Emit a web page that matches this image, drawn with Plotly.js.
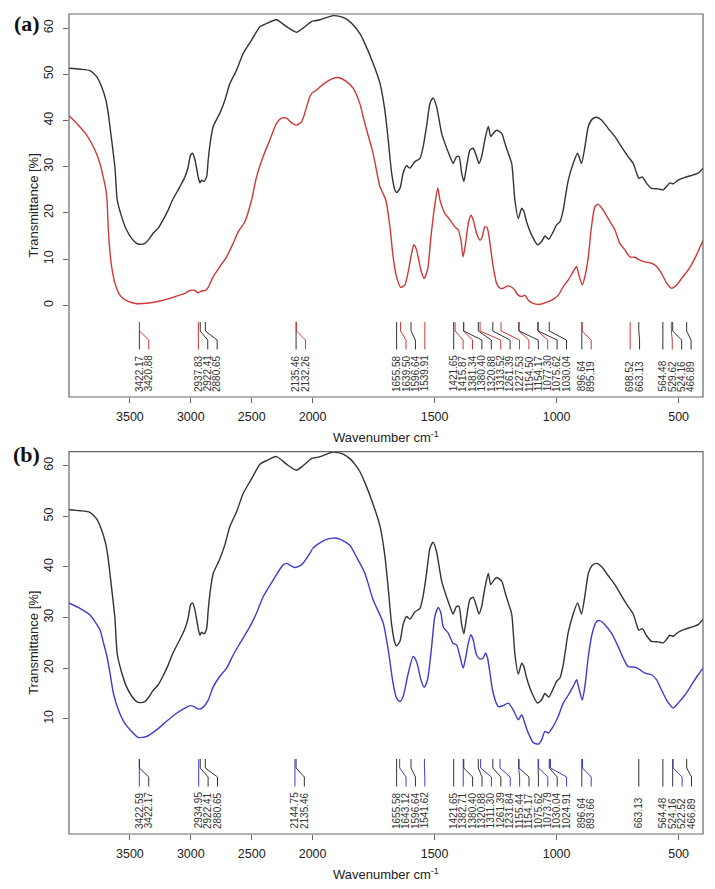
<!DOCTYPE html>
<html><head><meta charset="utf-8">
<script src="https://cdn.plot.ly/plotly-3.0.1.min.js"></script>
<style>body{margin:0;background:#fff}#chart{width:715px;height:889px}</style>
</head><body><div id="chart"></div>
<script>
// ---- spectra (wavenumber cm-1, transmittance %) ----
const blackWn = [4000,3910,3828,3773,3732,3697,3678,3650,3623,3604,3568,3527,3486,3445,3418,3377,3350,3309,3268,3227,3186,3150,3089,3048,3021,3002,2985,2966,2939,2925,2911,2892,2870,2857,2837,2816,2761,2720,2679,2624,2570,2501,2432,2378,2296,2214,2132,2078,2010,1969,1916,1875,1845,1827,1806,1786,1752,1724,1704,1690,1676,1663,1656,1642,1629,1615,1601,1581,1560,1547,1533,1519,1506,1492,1471,1458,1437,1424,1410,1400,1389,1380,1369,1355,1342,1328,1318,1307,1294,1280,1270,1260,1246,1225,1212,1198,1184,1171,1157,1143,1134,1123,1102,1078,1061,1048,1032,1014,1000,986,973,966,952,932,914,898,884,870,854,836,816,789,761,734,707,686,672,663,649,631,611,584,563,549,536,522,502,474,447,420,400];
const blackT  = [51.3,51.1,50.8,49.5,47.3,44.4,41.6,35.8,29.9,22.8,19.2,16.3,14.5,13.4,13.2,13.4,14.1,15.6,16.7,18.5,20.6,22.8,25.7,27.8,30.0,32.5,32.9,31.5,27.8,26.5,27.1,26.8,27.8,31.5,35.8,38.7,41.6,44.4,48.0,50.9,54.5,57.4,60.3,61.0,61.8,60.3,59.1,60.0,61.4,61.8,62.7,62.3,61.3,60.3,58.8,56.7,52.4,48.1,42.3,35.8,28.6,25.0,24.4,25.3,28.6,30.2,29.7,31.1,31.8,34.3,38.7,43.7,44.9,43.0,37.2,35.1,32.2,30.7,32.2,32.2,28.6,26.8,30.0,33.6,34.0,32.2,30.7,32.2,35.8,38.7,36.5,37.2,37.9,37.2,35.1,32.9,30.7,22.8,18.8,21.0,20.3,18.1,15.2,13.1,13.8,15.0,14.3,15.9,17.4,18.1,20.6,22.8,27.1,30.7,32.9,30.7,34.3,38.7,40.3,40.7,40.1,38.3,36.5,34.3,32.2,30.7,28.6,27.5,27.8,26.4,25.3,25.2,25.0,25.7,26.5,26.3,27.1,27.7,28.1,28.6,29.7];

const redWn = [4000,3938,3856,3787,3746,3719,3697,3688,3678,3670,3650,3623,3582,3527,3445,3363,3254,3172,3117,3048,3007,2966,2939,2911,2884,2857,2816,2761,2706,2652,2611,2556,2501,2460,2406,2351,2296,2255,2214,2173,2132,2091,2064,2022,1984,1950,1916,1895,1861,1834,1806,1786,1752,1724,1700,1683,1670,1656,1639,1622,1608,1594,1585,1574,1556,1543,1529,1515,1502,1487,1478,1469,1458,1437,1417,1403,1392,1383,1373,1362,1351,1342,1328,1314,1305,1294,1284,1273,1260,1246,1232,1219,1198,1178,1157,1143,1130,1116,1096,1075,1055,1034,1014,993,973,952,932,918,909,895,884,870,857,843,830,809,789,761,741,720,700,679,659,638,611,590,570,549,529,508,488,461,433,400];
const redT  = [41.0,39.4,36.9,33.6,30.7,27.8,25.0,22.8,17.0,13.4,8.4,4.8,2.2,1.0,0.35,0.43,0.93,1.5,2.0,2.6,3.2,3.2,2.7,3.1,3.2,3.9,6.2,8.4,10.5,13.4,15.9,18.1,22.8,27.8,32.2,35.8,39.4,40.5,40.5,39.5,39.0,39.7,41.6,45.2,46.6,48.1,49.1,49.3,48.4,47.0,43.6,39.4,32.9,25.7,22.8,17.0,10.5,6.2,3.9,4.4,7.3,11.3,13.1,12.0,7.6,5.8,7.6,14.8,20.6,25.4,22.8,21.3,19.9,18.5,17.0,16.3,14.1,10.5,13.4,17.7,19.5,18.5,15.6,14.1,14.8,17.0,16.7,13.4,8.4,4.8,3.7,3.7,4.2,3.7,2.2,1.9,2.2,1.1,0.4,0.2,0.4,0.8,1.3,2.2,4.0,5.5,7.3,8.4,6.6,4.4,6.2,10.5,17.0,21.3,21.9,20.6,18.8,16.3,13.4,12.0,10.5,10.4,9.8,9.4,9.1,8.4,6.9,4.8,3.7,4.4,5.8,7.6,10.2,14.1];

const blueWn = [4000,3910,3828,3746,3719,3691,3663,3636,3595,3541,3486,3432,3363,3281,3199,3117,3048,3002,2966,2933,2898,2857,2816,2761,2706,2652,2597,2515,2460,2406,2324,2242,2214,2146,2091,2022,1984,1950,1916,1888,1847,1827,1786,1752,1711,1690,1670,1656,1642,1629,1608,1588,1574,1556,1543,1529,1512,1499,1485,1474,1465,1444,1424,1410,1396,1383,1373,1362,1351,1342,1328,1314,1301,1291,1283,1273,1260,1239,1219,1198,1178,1157,1143,1130,1116,1096,1075,1061,1048,1034,1014,993,973,952,932,918,909,895,884,870,854,836,823,802,775,748,727,707,679,659,638,611,590,570,549,536,522,502,474,447,420,400];
const blueT  = [32.9,31.8,30.5,27.6,25.2,22.6,19.0,15.1,11.8,9.1,7.5,6.3,6.5,7.8,9.5,11.1,12.1,12.6,12.3,11.9,12.3,13.7,16.3,18.4,20.0,22.6,24.9,28.2,30.9,34.1,37.4,40.4,40.7,39.9,40.4,42.7,44.3,45.3,45.7,45.5,44.3,42.6,38.8,33.5,29.0,23.6,17.0,14.1,13.4,14.4,19.0,22.3,21.3,17.7,16.2,17.7,24.3,30.2,32.0,30.9,28.2,26.9,24.9,24.6,22.3,20.0,22.0,24.9,26.6,25.6,22.6,21.8,22.0,23.0,22.0,19.0,15.1,12.4,12.6,13.1,11.8,9.8,10.8,9.1,7.2,5.3,5.0,5.9,7.5,7.2,8.5,10.5,13.1,14.7,16.4,17.7,16.1,13.7,16.4,22.3,26.9,29.2,29.4,28.6,26.9,24.3,22.0,20.3,20.2,19.7,19.0,18.7,17.7,15.7,13.7,12.8,12.1,13.1,14.7,16.7,18.7,20.0];

// ---- peak labels ----
const aBlackPeaks = [3422.17,2922.41,2880.65,2135.46,1655.58,1596.64,1421.65,1380.40,1320.88,1261.39,1154.17,1075.62,1030.04,896.64,663.13,564.48,524.16,466.89];
const aRedPeaks   = [3420.88,2937.83,2132.26,1639.50,1539.91,1415.87,1381.34,1313.52,1227.53,1154.50,1077.30,895.19,698.52,529.62];
const bBlackPeaks = [3422.17,2922.41,2880.65,2135.46,1655.58,1596.64,1421.65,1380.40,1320.88,1261.39,1154.17,1075.62,1030.04,896.64,663.13,564.48,524.16,466.89];
const bBluePeaks  = [3422.59,2934.95,2144.75,1643.12,1541.62,1382.71,1311.30,1231.84,1155.44,1073.79,1024.91,893.66,522.52];

const xTicksLeft = [3500,3000,2500,2000];
const xTicksRight = [1500,1000,500];
const yTicksA = [0,10,20,30,40,50,60];
const yTicksB = [10,20,30,40,50,60];

// ---- layout constants ----
const W = 715, H = 889;
const margin = {l:69, r:12, t:14, b:55, pad:0};
const plotW = W - margin.l - margin.r;
const plotH = H - margin.t - margin.b;
const split = 0.3842;
const domA = [0.5329, 1], domB = [0, 0.4662];
const yRangeA = [-19.85, 63.05], yRangeB = [-12.76, 62.76];
const COL_K = '#333333', COL_R = '#d03838', COL_B = '#3c3cd2';
const AX = '#666666';
const FONT = 'Liberation Sans, Arial, sans-serif';
const LBL_SIZE = 10;
const LBL_GAP = 5;        // px between label text and bottom axis

const leftPx = plotW * split;
const lScale = leftPx / 2000, rScale = (plotW - leftPx) / 1600;
const toPx = w => w >= 2000 ? (4000 - w) * lScale : leftPx + (2000 - w) * rScale;
const fromPx = p => p <= leftPx ? 4000 - p / lScale : 2000 - (p - leftPx) / rScale;

function seg(wn, t, left) {
  const xs = [], ys = [];
  for (let i = 0; i < wn.length; i++) {
    const keep = left ? (wn[i] >= 2000 || (i > 0 && wn[i-1] >= 2000))
                      : (wn[i] <= 2000 || (i < wn.length-1 && wn[i+1] <= 2000));
    if (keep) { xs.push(wn[i]); ys.push(t[i]); }
  }
  return {xs, ys};
}
function traces(wn, t, color, xl, xr, y) {
  const L = seg(wn, t, true), R = seg(wn, t, false);
  const base = {type:'scatter', mode:'lines', line:{color, width:1.4, shape:'spline', smoothing:0.6}, hoverinfo:'skip', showlegend:false};
  return [Object.assign({}, base, {x:L.xs, y:L.ys, xaxis:xl, yaxis:y}),
          Object.assign({}, base, {x:R.xs, y:R.ys, xaxis:xr, yaxis:y})];
}

const shapes = [], annotations = [], labelMeta = [];
function peakLabels(groups, xl, xr, yref, yRange, dom) {
  const domPx = plotH * (dom[1] - dom[0]);
  const yv = px => yRange[0] + px * (yRange[1] - yRange[0]) / domPx;
  const all = [];
  groups.forEach(g => g.peaks.forEach(w => all.push({w, color:g.color})));
  all.sort((a, b) => b.w - a.w);
  let prev = -1e9;
  all.forEach(p => {
    const own = toPx(p.w);
    const lab = Math.max(own, prev + 9.4);
    prev = lab;
    const lw = fromPx(lab);
    const xref = own <= leftPx ? xl : xr;
    const txt = p.w.toFixed(2);
    shapes.push({type:'path', xref, yref, layer:'above',
      path:`M ${p.w},${yv(75)} L ${p.w},${yv(66)} L ${lw},${yv(57)} L ${lw},${yv(47.5)}`,
      line:{color:p.color, width:1}});
    labelMeta.push({idx:annotations.length, yaxis: yref === 'y' ? 'yaxis' : 'yaxis2'});
    annotations.push({x:lw, y:yv(LBL_GAP), xref, yref, text:txt, textangle:-90,
      xanchor:'center', yanchor:'bottom', showarrow:false, borderpad:0,
      font:{family:FONT, size:LBL_SIZE, color:'#333'}});
  });
}
peakLabels([{peaks:aBlackPeaks, color:COL_K}, {peaks:aRedPeaks, color:COL_R}], 'x', 'x2', 'y', yRangeA, domA);
peakLabels([{peaks:bBlackPeaks, color:COL_K}, {peaks:bBluePeaks, color:COL_B}], 'x3', 'x4', 'y2', yRangeB, domB);

[domA, domB].forEach(d => shapes.push({type:'rect', xref:'paper', yref:'paper', x0:0, x1:1, y0:d[0], y1:d[1], line:{color:AX, width:1.2}, layer:'above'}));

[domA, domB].forEach(d => {
  annotations.push({xref:'paper', yref:'paper', x:0.5, y:d[0] - 40/plotH, text:'Wavenumber cm<sup>-1</sup>', showarrow:false, xanchor:'center', yanchor:'middle', font:{family:FONT, size:13, color:'#222'}});
  annotations.push({xref:'paper', yref:'paper', x:-35/plotW, y:(d[0]+d[1])/2, text:'Transmittance [%]', textangle:-90, showarrow:false, xanchor:'center', yanchor:'middle', font:{family:FONT, size:13, color:'#222'}});
});
annotations.push({xref:'paper', yref:'paper', x:-42/plotW, y:1 - 9.5/plotH, text:'<b>(a)</b>', showarrow:false, xanchor:'center', yanchor:'middle', font:{family:'Liberation Serif, serif', size:22, color:'#111'}});
annotations.push({xref:'paper', yref:'paper', x:-42.5/plotW, y:domB[1] - 3/plotH, text:'<b>(b)</b>', showarrow:false, xanchor:'center', yanchor:'middle', font:{family:'Liberation Serif, serif', size:22, color:'#111'}});

function xax(range, dom, anchor, ticks) {
  return {range, domain:dom, anchor, tickmode:'array', tickvals:ticks, ticktext:ticks.map(String),
    ticks:'outside', ticklen:5, tickwidth:1, tickcolor:AX, showline:false, showgrid:false, zeroline:false,
    tickfont:{family:FONT, size:12.5, color:'#222'}, ticklabelstandoff:3, fixedrange:true};
}
function yax(range, dom, anchor, ticks) {
  return {range, domain:dom, anchor, tickmode:'array', tickvals:ticks, ticktext:ticks.map(String),
    ticks:'outside', ticklen:5, tickwidth:1, tickcolor:AX, showline:false, showgrid:false, zeroline:false,
    tickangle:-90, tickfont:{family:FONT, size:12.5, color:'#222'}, ticklabelstandoff:5, fixedrange:true};
}

const data = [].concat(
  traces(blackWn, blackT, COL_K, 'x', 'x2', 'y'),
  traces(redWn, redT, COL_R, 'x', 'x2', 'y'),
  traces(blackWn, blackT, COL_K, 'x3', 'x4', 'y2'),
  traces(blueWn, blueT, COL_B, 'x3', 'x4', 'y2')
);

const layout = {
  width:W, height:H, margin, paper_bgcolor:'#fff', plot_bgcolor:'#fff', showlegend:false,
  xaxis: xax([4000,2000], [0, split], 'y', xTicksLeft),
  xaxis2: xax([2000,400], [split, 1], 'y', xTicksRight),
  xaxis3: xax([4000,2000], [0, split], 'y2', xTicksLeft),
  xaxis4: xax([2000,400], [split, 1], 'y2', xTicksRight),
  yaxis: yax(yRangeA, domA, 'x', yTicksA),
  yaxis2: yax(yRangeB, domB, 'x3', yTicksB),
  shapes, annotations, hovermode:false
};

// safety net: align the bottom of every rotated peak label to a fixed gap above the axis
function alignLabels(gd) {
  const fl = gd._fullLayout;
  if (!fl || !fl.yaxis || !fl.yaxis._length) return;
  const top0 = gd.getBoundingClientRect().top, upd = {};
  let any = false;
  labelMeta.forEach(m => {
    const el = gd.querySelector(`.annotation[data-index="${m.idx}"] text`);
    if (!el) return;
    const r = el.getBoundingClientRect();
    if (!r.height) return;
    const ya = fl[m.yaxis];
    const want = ya._offset + ya._length - LBL_GAP;
    const dPx = want - (r.bottom - top0);
    if (Math.abs(dPx) < 0.8) return;
    const upp = (ya.range[1] - ya.range[0]) / ya._length;
    upd[`annotations[${m.idx}].y`] = gd.layout.annotations[m.idx].y - dPx * upp;
    any = true;
  });
  if (any) Plotly.relayout(gd, upd);
}
const gd = document.getElementById('chart');
const p = Plotly.newPlot(gd, data, layout, {displayModeBar:false, staticPlot:true});
try { alignLabels(gd); } catch (e) {}
p.then(() => alignLabels(gd));
</script></body></html>
